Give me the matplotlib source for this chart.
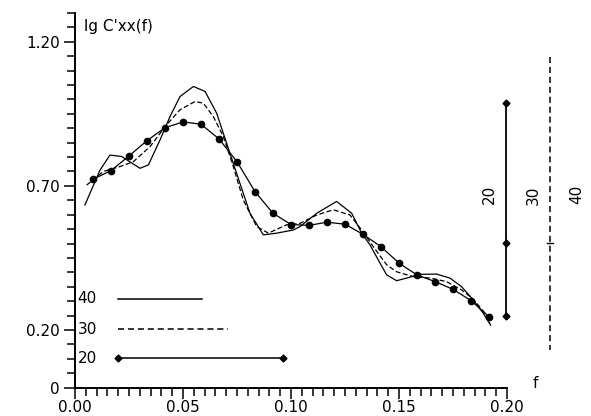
import numpy as np
import matplotlib
matplotlib.use('Agg')
import matplotlib.pyplot as plt
from matplotlib.ticker import FixedLocator, MultipleLocator

# curva M=20 (com marcadores), f = k/120
f20 = np.arange(1, 24) / 120.0
c20 = [0.723, 0.753, 0.804, 0.857, 0.902, 0.922, 0.914, 0.863, 0.784, 0.680,
       0.605, 0.566, 0.563, 0.574, 0.567, 0.532, 0.489, 0.432, 0.391, 0.368,
       0.341, 0.302, 0.246]

# curva M=30 (tracejada)
f30 = [0.0054, 0.0085, 0.0131, 0.0208, 0.0270, 0.0347, 0.0424, 0.0486, 0.0556,
       0.0594, 0.0640, 0.0687, 0.0733, 0.0779, 0.0841, 0.0895, 0.0980, 0.1042,
       0.1119, 0.1196, 0.1273, 0.1327, 0.1381, 0.1443, 0.1489, 0.1566, 0.1644,
       0.1720, 0.1790, 0.1844, 0.1898, 0.1921]
c30 = [0.703, 0.721, 0.750, 0.767, 0.784, 0.836, 0.912, 0.964, 0.993,
       0.987, 0.941, 0.871, 0.767, 0.651, 0.559, 0.536, 0.565, 0.570,
       0.599, 0.617, 0.599, 0.547, 0.489, 0.426, 0.402, 0.385, 0.380,
       0.368, 0.339, 0.307, 0.258, 0.223]

# curva M=40 (continua)
f40 = [0.0046, 0.0116, 0.0162, 0.0216, 0.0301, 0.0340, 0.0394, 0.0440, 0.0486,
       0.0548, 0.0602, 0.0656, 0.0702, 0.0748, 0.0810, 0.0872, 0.0934, 0.1011,
       0.1042, 0.1119, 0.1211, 0.1281, 0.1327, 0.1366, 0.1404, 0.1443, 0.1489,
       0.1535, 0.1597, 0.1674, 0.1736, 0.1790, 0.1844, 0.1890, 0.1924]
c40 = [0.634, 0.755, 0.807, 0.802, 0.761, 0.773, 0.860, 0.941, 1.010,
       1.045, 1.028, 0.952, 0.848, 0.744, 0.605, 0.530, 0.536, 0.547,
       0.559, 0.605, 0.646, 0.605, 0.536, 0.495, 0.443, 0.391, 0.371,
       0.380, 0.393, 0.394, 0.380, 0.350, 0.304, 0.258, 0.217]

# largura de banda (legenda) e intervalos de confianca (barras a direita)
lags = ['40', '30', '20']
banda = [0.0389, 0.0509, 0.0764]
ic_centro = 0.502
ic_sup = [None, 1.148, 0.988]
ic_inf = [None, 0.130, 0.249]

xticks = [0.0, 0.05, 0.10, 0.15, 0.20]
xlabels = ['0.00', '0.05', '0.10', '0.15', '0.20']
yticks = [0.0, 0.2, 0.7, 1.2]
ylabels = ['0', '0.20', '0.70', '1.20']

fig = plt.figure(figsize=(5.91, 4.16), dpi=100)
ax = fig.add_axes([75 / 591, 28.4 / 416, 432 / 591, 374.6 / 416])

ax.plot(f40, c40, color='black', lw=0.9)
ax.plot(f30, c30, color='black', lw=0.9, ls=(0, (4, 2)))
ax.plot(f20, c20, color='black', lw=0.9, marker='o', ms=4.5)

# legenda feita a mao
leg_y = [0.308, 0.203, 0.102]
estilos = ['-', (0, (4, 2.5)), '-']
for i in range(3):
    ax.text(0.0012, leg_y[i], lags[i], fontsize=11, va='center', ha='left')
    xs = [0.02, 0.02 + banda[i]]
    if lags[i] == '20':
        ax.plot(xs, [leg_y[i]] * 2, color='black', lw=1.1, marker='D', ms=3.5)
    else:
        ax.plot(xs, [leg_y[i]] * 2, color='black', lw=1.1, ls=estilos[i])

# barras de confianca
ax.plot([0.1996] * 3, [ic_sup[2], ic_centro, ic_inf[2]], color='black', lw=1.3,
        marker='D', ms=3.5, clip_on=False)
ax.plot([0.2199] * 2, [ic_sup[1], ic_inf[1]], color='black', lw=1.1,
        ls=(0, (4, 2.5)), clip_on=False)
ax.plot([0.2184, 0.2214], [ic_centro] * 2, color='black', lw=1, clip_on=False)
ax.plot([0.2393, 0.2420], [ic_centro] * 2, color='black', lw=1, clip_on=False)
for xl, s in zip([0.1917, 0.2120, 0.2324], ['20', '30', '40']):
    ax.text(xl, 0.669, s, rotation=90, fontsize=11, ha='center', va='center')

# eixos
ax.set_xlim(0, 0.20)
ax.set_ylim(0, 1.30)
ax.spines['top'].set_visible(False)
ax.spines['right'].set_visible(False)
ax.spines['left'].set_linewidth(1.4)
ax.spines['bottom'].set_linewidth(1.4)

ax.xaxis.set_major_locator(FixedLocator(xticks))
ax.xaxis.set_minor_locator(MultipleLocator(0.005))
ax.set_xticklabels(xlabels)
ax.yaxis.set_major_locator(FixedLocator(yticks))
ax.set_yticklabels(ylabels)
ax.yaxis.set_minor_locator(MultipleLocator(0.05))
ax.tick_params(which='major', length=8, width=1.1, labelsize=11, pad=3)
ax.tick_params(axis='x', which='major', pad=1)
ax.tick_params(which='minor', length=5.5, width=1.1)

ax.text(0.004, 1.252, "lg C'xx(f)", fontsize=11, va='center', ha='left')
ax.text(0.212, 0.0125, 'f', fontsize=11, va='center', ha='left')

fig.savefig('out.png', dpi=100)
